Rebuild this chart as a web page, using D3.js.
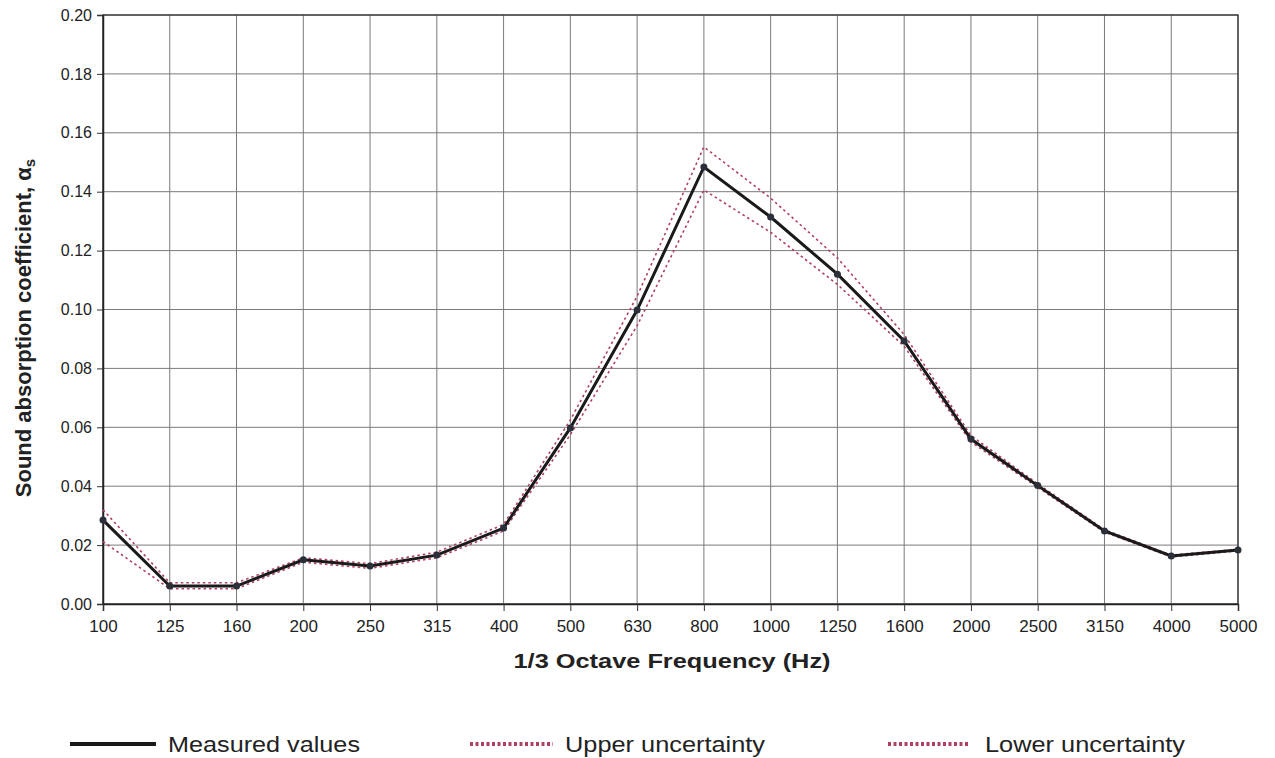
<!DOCTYPE html>
<html><head><meta charset="utf-8">
<script src="https://cdn.jsdelivr.net/npm/d3@7"></script>
<style>body{margin:0;background:#fff}svg{display:block}</style>
</head><body>
<svg id="c" width="1275" height="758"></svg>
<script>
const categories = ["100","125","160","200","250","315","400","500","630","800","1000","1250","1600","2000","2500","3150","4000","5000"];
const measured = [0.0285,0.0061,0.0061,0.0150,0.0129,0.0166,0.0258,0.0598,0.0998,0.1484,0.1314,0.1120,0.0893,0.0560,0.0402,0.0248,0.0163,0.0183];
const upper    = [0.0320,0.0072,0.0072,0.0157,0.0137,0.0176,0.0270,0.0625,0.1045,0.1552,0.1378,0.1175,0.0915,0.0572,0.0408,0.0252,0.0166,0.0186];
const lower    = [0.0212,0.0052,0.0052,0.0142,0.0121,0.0157,0.0248,0.0575,0.0945,0.1406,0.1262,0.1085,0.0875,0.0550,0.0396,0.0244,0.0160,0.0180];
const yTicks = [0,0.02,0.04,0.06,0.08,0.10,0.12,0.14,0.16,0.18,0.20];

const svg = d3.select("#c");
const L=103, R=1238, T=15, B=604;
const x = d3.scalePoint().domain(categories).range([L,R]);
const y = d3.scaleLinear().domain([0,0.2]).range([B,T]);
const font = "'Liberation Sans', Arial, sans-serif";

// grid
svg.append("g").selectAll("line").data(yTicks).join("line")
  .attr("x1",L).attr("x2",R).attr("y1",d=>y(d)).attr("y2",d=>y(d))
  .attr("stroke","#7a7a7a").attr("stroke-width",1);
svg.append("g").selectAll("line").data(categories).join("line")
  .attr("x1",d=>x(d)).attr("x2",d=>x(d)).attr("y1",T).attr("y2",B)
  .attr("stroke","#7a7a7a").attr("stroke-width",1);
svg.append("rect").attr("x",L).attr("y",T).attr("width",R-L).attr("height",B-T)
  .attr("fill","none").attr("stroke","#333").attr("stroke-width",1.3);

// axes
const ya = d3.axisLeft(y).tickValues(yTicks).tickFormat(d3.format(".2f")).tickSize(6).tickPadding(5);
const gy = svg.append("g").attr("transform",`translate(${L},0)`).call(ya);
const xa = d3.axisBottom(x).tickSize(7).tickPadding(9);
const gx = svg.append("g").attr("transform",`translate(0,${B})`).call(xa);
[gy,gx].forEach(g=>{
  g.select(".domain").attr("stroke","#222").attr("stroke-width",1.5);
  g.selectAll(".tick line").attr("stroke","#333");
  g.selectAll("text").attr("font-family",font).attr("fill","#222");
});
gy.selectAll("text").attr("font-size",16);
gx.selectAll("text").attr("font-size",17);

// uncertainty lines
const line = d3.line().x((d,i)=>x(categories[i])).y(d=>y(d));
[upper,lower].forEach(s=>{
  svg.append("path").datum(s).attr("d",line).attr("fill","none")
    .attr("stroke","#b04060").attr("stroke-width",1.6).attr("stroke-dasharray","2.5,3");
});
svg.append("path").datum(measured).attr("d",line).attr("fill","none")
  .attr("stroke","#1a1a1a").attr("stroke-width",3);
svg.append("g").selectAll("circle").data(measured).join("circle")
  .attr("cx",(d,i)=>x(categories[i])).attr("cy",d=>y(d)).attr("r",3.5)
  .attr("fill","#2b2f3a");

// titles
svg.append("text").attr("x",672).attr("y",668).attr("text-anchor","middle")
  .attr("font-family",font).attr("font-weight","bold").attr("font-size",21).attr("fill","#222")
  .attr("textLength",317).attr("lengthAdjust","spacingAndGlyphs")
  .text("1/3 Octave Frequency (Hz)");
const yt = svg.append("text").attr("transform","translate(31,328) rotate(-90)").attr("text-anchor","middle")
  .attr("font-family",font).attr("font-weight","bold").attr("font-size",22).attr("fill","#222");
yt.append("tspan").text("Sound absorption coefficient, α");
yt.append("tspan").attr("font-size",15).attr("dy",4).text("s");

// legend
const leg = [
  {label:"Measured values", x1:70, x2:156, tx:168, w:192, type:"solid"},
  {label:"Upper uncertainty", x1:470, x2:553, tx:565, w:200, type:"dot"},
  {label:"Lower uncertainty", x1:888, x2:968, tx:985, w:200, type:"dot"}
];
const lg = svg.append("g");
leg.forEach(d=>{
  lg.append("line").attr("x1",d.x1).attr("x2",d.x2).attr("y1",744).attr("y2",744)
    .attr("stroke",d.type==="solid"?"#1a1a1a":"#b04060")
    .attr("stroke-width",4)
    .attr("stroke-dasharray",d.type==="solid"?null:"3,2.5");
  lg.append("text").attr("x",d.tx).attr("y",752).attr("font-family",font).attr("font-size",22)
    .attr("textLength",d.w).attr("lengthAdjust","spacingAndGlyphs")
    .attr("fill","#222").text(d.label);
});
</script>
</body></html>
